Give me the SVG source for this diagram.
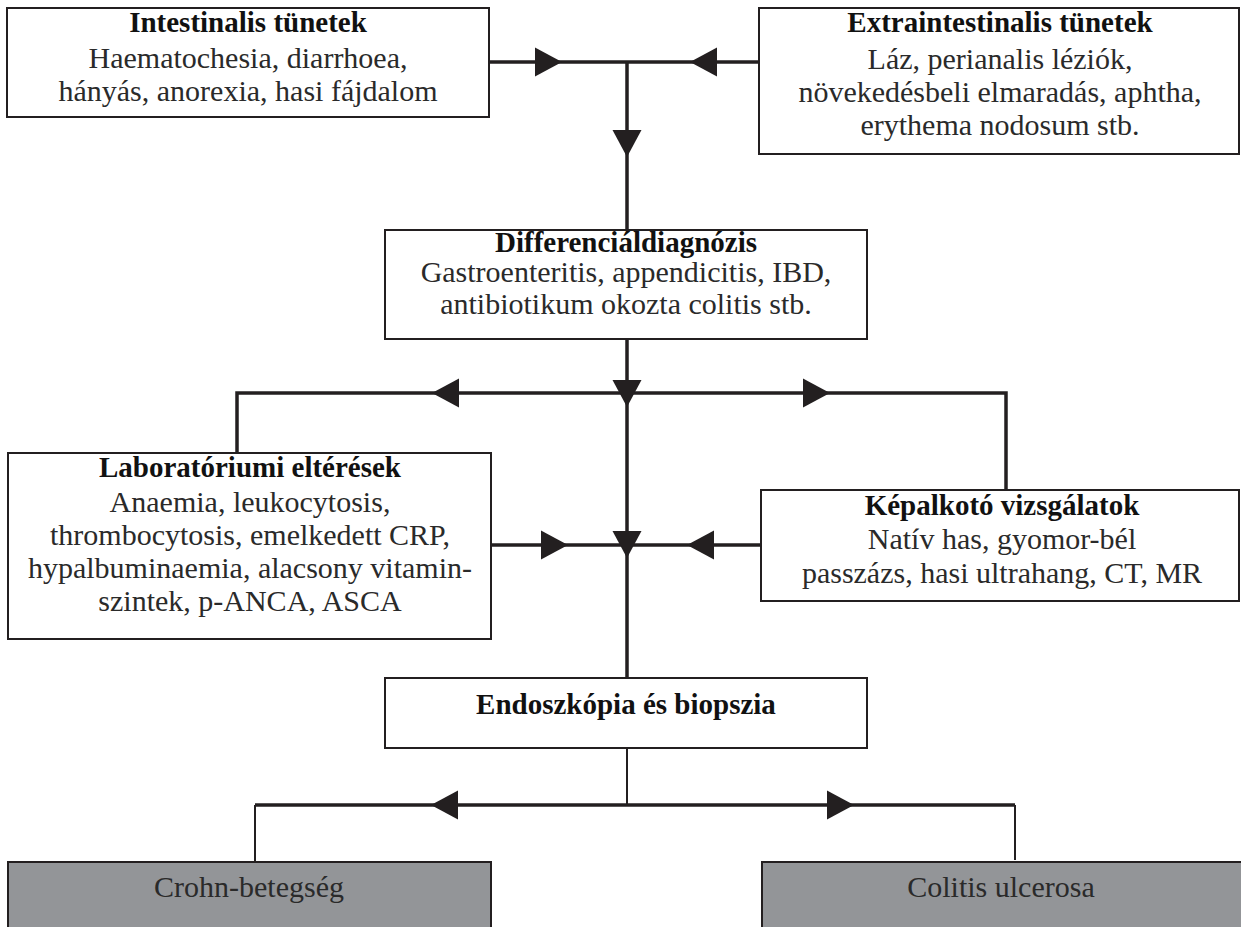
<svg xmlns="http://www.w3.org/2000/svg" xmlns:xlink="http://www.w3.org/1999/xlink" width="1241" height="927" viewBox="0 0 1241 927">
<style>
.box{fill:#fff;stroke:#231f20;stroke-width:2}
.gray{fill:#939598;stroke:#231f20;stroke-width:2}
.t{font-family:"Liberation Serif","Times New Roman",serif;font-size:29px;font-weight:bold;fill:#111;text-anchor:middle}
.b{font-family:"Liberation Serif","Times New Roman",serif;font-size:30px;fill:#2a2a2a;text-anchor:middle}
.ln{stroke:#231f20;stroke-width:3.5;fill:none}
.thin{stroke:#231f20;stroke-width:2;fill:none}
.ah{fill:#231f20}
</style>
<defs>
<path id="ar" d="M0,0 L-27,-14.5 L-27,14.5 Z"/>
</defs>
<rect width="1241" height="927" fill="#fff"/>
<g id="connectors">
<path class="ln" d="M489,62 H759 M627,62 V230"/>
<path class="ln" d="M627,339 V678 M237,453 V393 H1006 V490"/>
<path class="ln" d="M491,545 H761"/>
<path class="thin" d="M627,748 V805 M255,862 V805 M1015,805 V860"/>
<path class="ln" d="M255,805 H1015"/>
<g class="ah">
<use xlink:href="#ar" transform="translate(562,62)"/>
<use xlink:href="#ar" transform="translate(690,62) rotate(180)"/>
<use xlink:href="#ar" transform="translate(627,157) rotate(90)"/>
<use xlink:href="#ar" transform="translate(432,393) rotate(180)"/>
<use xlink:href="#ar" transform="translate(627,407) rotate(90)"/>
<use xlink:href="#ar" transform="translate(830,393)"/>
<use xlink:href="#ar" transform="translate(568,545)"/>
<use xlink:href="#ar" transform="translate(627,558) rotate(90)"/>
<use xlink:href="#ar" transform="translate(687,545) rotate(180)"/>
<use xlink:href="#ar" transform="translate(431,805) rotate(180)"/>
<use xlink:href="#ar" transform="translate(854,805)"/>
</g>
</g>
<g id="intestinalis">
<rect class="box" x="7" y="8" width="482" height="109"/>
<text class="t" x="248" y="32">Intestinalis tünetek</text>
<text class="b" x="248" y="68">Haematochesia, diarrhoea,</text>
<text class="b" x="248" y="101">hányás, anorexia, hasi fájdalom</text>
</g>
<g id="extraintestinalis">
<rect class="box" x="759" y="8" width="480" height="146"/>
<text class="t" x="1000" y="32">Extraintestinalis tünetek</text>
<text class="b" x="1000" y="69">Láz, perianalis léziók,</text>
<text class="b" x="1000" y="102">növekedésbeli elmaradás, aphtha,</text>
<text class="b" x="1000" y="135">erythema nodosum stb.</text>
</g>
<g id="differencial">
<rect class="box" x="385" y="230" width="482" height="109"/>
<text class="t" x="626" y="252">Differenciáldiagnózis</text>
<text class="b" x="626" y="282">Gastroenteritis, appendicitis, IBD,</text>
<text class="b" x="626" y="314">antibiotikum okozta colitis stb.</text>
</g>
<g id="laboratoriumi">
<rect class="box" x="8" y="453" width="483" height="186"/>
<text class="t" x="250" y="477">Laboratóriumi eltérések</text>
<text class="b" x="250" y="512">Anaemia, leukocytosis,</text>
<text class="b" x="250" y="545">thrombocytosis, emelkedett CRP,</text>
<text class="b" x="250" y="578">hypalbuminaemia, alacsony vitamin-</text>
<text class="b" x="250" y="611">szintek, p-ANCA, ASCA</text>
</g>
<g id="kepalkoto">
<rect class="box" x="761" y="490" width="478" height="111"/>
<text class="t" x="1002" y="515">Képalkotó vizsgálatok</text>
<text class="b" x="1002" y="549">Natív has, gyomor-bél</text>
<text class="b" x="1002" y="583">passzázs, hasi ultrahang, CT, MR</text>
</g>
<g id="endoszkopia">
<rect class="box" x="385" y="678" width="482" height="70"/>
<text class="t" x="626" y="714">Endoszkópia és biopszia</text>
</g>
<g id="crohn">
<rect class="gray" x="8" y="862" width="483" height="75"/>
<text class="b" x="249" y="897">Crohn-betegség</text>
</g>
<g id="colitis">
<rect class="gray" x="762" y="862" width="490" height="75"/>
<text class="b" x="1001" y="897">Colitis ulcerosa</text>
</g>
</svg>
